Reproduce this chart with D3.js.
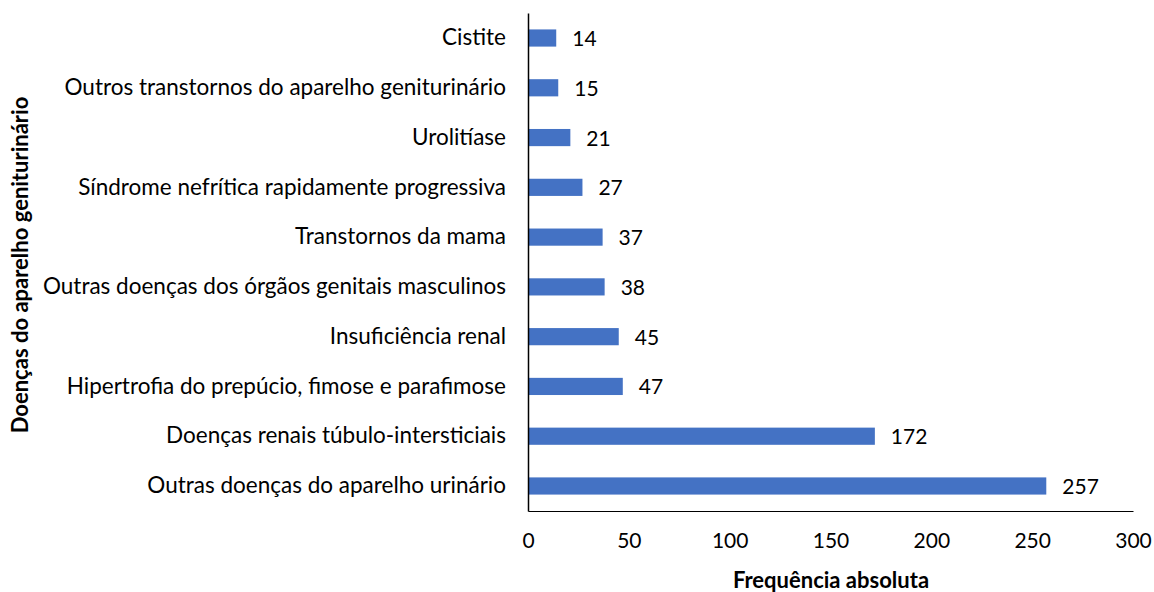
<!DOCTYPE html>
<html>
<head>
<meta charset="utf-8">
<script src="https://cdn.jsdelivr.net/npm/d3@7"></script>
<style>
  body { margin: 0; background: #fff; }
  text { font-family: Lato, "Open Sans", sans-serif; fill: #000; }
</style>
</head>
<body>
<div id="chart"></div>
<script>
var svgWidth = 1154;
var svgHeight = 592;

var margin = { top: 13, right: 21, bottom: 81, left: 528 };
var chartWidth = svgWidth - margin.left - margin.right;
var chartHeight = svgHeight - margin.top - margin.bottom;

// data, top to bottom
var categories = [
  "Cistite",
  "Outros transtornos do aparelho geniturinário",
  "Urolitíase",
  "Síndrome nefrítica rapidamente progressiva",
  "Transtornos da mama",
  "Outras doenças dos órgãos genitais masculinos",
  "Insuficiência renal",
  "Hipertrofia do prepúcio, fimose e parafimose",
  "Doenças renais túbulo-intersticiais",
  "Outras doenças do aparelho urinário"
];
var values = [14, 15, 21, 27, 37, 38, 45, 47, 172, 257];
var xTicks = [0, 50, 100, 150, 200, 250, 300];

var svg = d3.select("#chart")
  .append("svg")
  .attr("width", svgWidth)
  .attr("height", svgHeight);

var chartGroup = svg.append("g")
  .attr("transform", `translate(${margin.left}, ${margin.top})`);

var xScale = d3.scaleLinear().domain([0, 300]).range([0, chartWidth]);
var yScale = d3.scaleBand().domain(categories).range([0, chartHeight]).paddingInner(0.655).paddingOuter(0.33);

// bars
chartGroup.selectAll("rect.bar")
  .data(values)
  .enter()
  .append("rect")
  .attr("class", "bar")
  .attr("x", 0)
  .attr("y", (d, i) => yScale(categories[i]))
  .attr("width", d => xScale(d))
  .attr("height", yScale.bandwidth())
  .attr("fill", "#4472c4");

// value labels
chartGroup.selectAll("text.val")
  .data(values)
  .enter()
  .append("text")
  .attr("class", "val")
  .attr("x", d => xScale(d) + 16)
  .attr("y", (d, i) => yScale(categories[i]) + yScale.bandwidth() / 2)
  .attr("dy", "0.38em")
  .style("font-size", "21px")
  .text(d => d);

// y axis (labels, no ticks)
var leftAxis = d3.axisLeft(yScale).tickSize(0).tickPadding(22);
var yAxisG = chartGroup.append("g").call(leftAxis);
yAxisG.select(".domain").attr("stroke", "#000").attr("stroke-width", 1.5);
yAxisG.selectAll("text").style("font-size", "22.5px").style("font-family", "Lato, sans-serif");

// x axis
var bottomAxis = d3.axisBottom(xScale).tickValues(xTicks).tickSize(0).tickPadding(22);
var xAxisG = chartGroup.append("g")
  .attr("transform", `translate(0, ${chartHeight})`)
  .call(bottomAxis);
xAxisG.select(".domain").attr("stroke", "#000").attr("stroke-width", 1.2);
xAxisG.selectAll("text").style("font-size", "21px").style("font-family", "Lato, sans-serif");

// axis titles
svg.append("text")
  .attr("x", 831)
  .attr("y", 588)
  .attr("text-anchor", "middle")
  .style("font-size", "22px")
  .style("font-weight", "bold")
  .text("Frequência absoluta");

svg.append("text")
  .attr("transform", "translate(28, 265) rotate(-90)")
  .attr("text-anchor", "middle")
  .style("font-size", "22px")
  .style("font-weight", "bold")
  .text("Doenças do aparelho geniturinário");
</script>
</body>
</html>
